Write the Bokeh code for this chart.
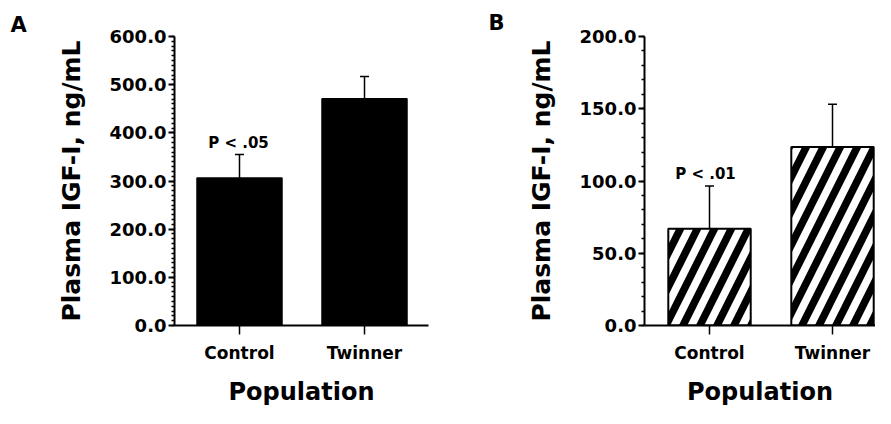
from bokeh.plotting import figure
from bokeh.layouts import row
from bokeh.models import (ColumnDataSource, Range1d, FixedTicker, SingleIntervalTicker,
                          PrintfTickFormatter, Whisker, TeeHead, Label)
from bokeh.embed import file_html
from bokeh.resources import INLINE

# ---- data ----
categories = ["Control", "Twinner"]
igf_a_mean = [306.0, 471.0]
igf_a_sem = [49.0, 46.0]
igf_b_mean = [67.0, 123.5]
igf_b_sem = [29.5, 29.7]
p_text_a = "P < .05"
p_text_b = "P < .01"
y_label = "Plasma IGF-I, ng/mL"
x_label = "Population"
panel_letters = ["A", "B"]

FONT = "DejaVu Sans"


def make_panel(letter, means, sems, ymax, major, n_minor, ptext, width, left, right,
               x_start, x_end, bar_width, hatched, title_offset, title_standoff, p_xoff):
    pos = [i + 1 for i in range(len(categories))]
    upper = [m + s for m, s in zip(means, sems)]
    src = ColumnDataSource(dict(x=pos, cat=categories, top=means, upper=upper))
    p = figure(width=width, height=408, output_backend="svg", toolbar_location=None,
               x_range=Range1d(x_start, x_end), y_range=Range1d(0, ymax),
               min_border_left=left, min_border_right=right,
               min_border_top=36, min_border_bottom=77, title=letter)
    p.outline_line_color = None
    p.grid.visible = False
    p.background_fill_color = "white"
    p.border_fill_color = "white"

    p.title.align = "left"
    p.title.offset = title_offset
    p.title.standoff = title_standoff
    p.title.text_font = FONT
    p.title.text_font_style = "bold"
    p.title.text_font_size = "21px"
    p.title.text_color = "black"

    if hatched:
        p.vbar(x="x", top="top", bottom=0, width=bar_width, source=src,
               fill_color="white", line_color="black", line_width=2,
               hatch_pattern="/", hatch_color="black", hatch_scale=34, hatch_weight=7.5)
    else:
        p.vbar(x="x", top="top", bottom=0, width=bar_width, source=src,
               fill_color="black", line_color="black", line_width=1.5)

    wh = Whisker(source=src, base="x", upper="upper", lower="top",
                 upper_head=TeeHead(size=9, line_width=1.5, line_color="black"),
                 lower_head=None, line_width=1.5, line_color="black")
    p.add_layout(wh)

    p.add_layout(Label(x=pos[0], y=upper[0], text=ptext, x_offset=p_xoff, y_offset=12,
                       text_align="center", text_baseline="alphabetic",
                       text_font=FONT, text_font_style="bold", text_font_size="15px",
                       text_color="black"))

    # y axis
    ya = p.yaxis[0]
    ya.ticker = SingleIntervalTicker(interval=major, num_minor_ticks=n_minor)
    ya.formatter = PrintfTickFormatter(format="%.1f")
    ya.axis_line_width = 2
    ya.major_tick_line_width = 2
    ya.major_tick_out = 6
    ya.major_tick_in = 0
    ya.minor_tick_out = 3
    ya.minor_tick_in = 0
    ya.minor_tick_line_width = 1.5
    ya.major_label_text_font = FONT
    ya.major_label_text_font_style = "bold"
    ya.major_label_text_font_size = "18px"
    ya.major_label_text_color = "black"
    ya.major_label_standoff = 2
    ya.axis_label = y_label
    ya.axis_label_text_font = FONT
    ya.axis_label_text_font_style = "bold"
    ya.axis_label_text_font_size = "25px"
    ya.axis_label_text_color = "black"
    ya.axis_label_standoff = 21

    # x axis
    xa = p.xaxis[0]
    xa.ticker = FixedTicker(ticks=pos)
    xa.major_label_overrides = {pp: c for pp, c in zip(pos, categories)}
    xa.axis_line_width = 2
    xa.major_tick_line_width = 1.5
    xa.major_tick_out = 9
    xa.major_tick_in = 0
    xa.minor_tick_out = 0
    xa.minor_tick_in = 0
    xa.major_label_text_font = FONT
    xa.major_label_text_font_style = "bold"
    xa.major_label_text_font_size = "17px"
    xa.major_label_text_color = "black"
    xa.major_label_standoff = 8
    xa.axis_label = x_label
    xa.axis_label_text_font = FONT
    xa.axis_label_text_font_style = "bold"
    xa.axis_label_text_font_size = "24px"
    xa.axis_label_text_color = "black"
    xa.axis_label_standoff = 12
    return p


p1 = make_panel(panel_letters[0], igf_a_mean, igf_a_sem, 600, 100, 10, p_text_a,
                width=445, left=174, right=17, x_start=0.48, x_end=2.512,
                bar_width=0.68, hatched=False, title_offset=-164, title_standoff=0, p_xoff=-1)
p2 = make_panel(panel_letters[1], igf_b_mean, igf_b_sem, 200, 50, 5, p_text_b,
                width=430, left=199, right=0, x_start=0.4715, x_end=2.3496,
                bar_width=0.67, hatched=True, title_offset=-156, title_standoff=3, p_xoff=-4)

layout = row(p1, p2)
open("out.html", "w").write(file_html(layout, INLINE))
